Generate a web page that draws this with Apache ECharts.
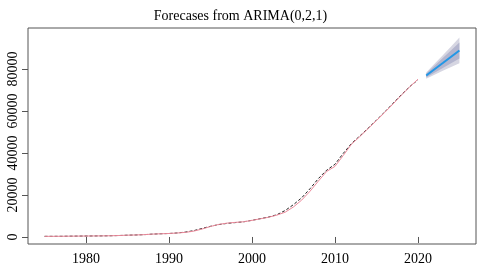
<!DOCTYPE html>
<html>
<head>
<meta charset="utf-8">
<script src="https://cdn.jsdelivr.net/npm/echarts@6/dist/echarts.min.js"></script>
<style>
html,body{margin:0;padding:0;background:#fff;}
#chart{width:481px;height:269px;}
</style>
</head>
<body>
<div id="chart"></div>
<script>
// 历史数据 1975-2020
var years = [];
for (var y = 1975; y <= 2020; y++) years.push(y);
var actual = [300,310,330,380,420,460,490,530,590,700,
	860,960,1110,1370,1530,1660,1920,2350,3040,4070,
	5090,5900,6480,6860,7230,7940,8720,9500,10600,12600,
	15400,18700,23000,27800,31800,34600,39800,44500,48100,51800,
	55600,59500,63600,67700,71500,74800];
var fitted = [300,310,330,380,420,460,490,530,590,700,
	860,960,1110,1370,1530,1660,1900,2200,2800,3800,
	5000,6000,6600,6950,7250,7900,8650,9400,10400,11800,
	14300,17600,21800,26600,31200,33600,38800,44200,47800,51600,
	55400,59300,63300,67500,71400,75100];
// 预测 2021-2025
var fcYears = [2021,2022,2023,2024,2025];
var fcMean = [76850,79850,82800,85800,88800];
var lo80 = [75900,78200,80400,82700,84950];
var hi80 = [77800,81500,85200,88900,92600];
var lo95 = [75350,77250,79100,80900,82650];
var hi95 = [78350,82450,86500,90700,94900];

var xTicks = [1980,1990,2000,2010,2020];
var yTicks = [0,20000,40000,60000,80000];

function pairs(xs, vs){
	var out = [];
	for (var i = 0; i < xs.length; i++) out.push([xs[i], vs[i]]);
	return out;
}
// 预测区间多边形
function bandSeries(lo, hi, color, z){
	return {
		type: 'custom', z: z, silent: true,
		data: [[fcYears[0], lo[0]]],
		renderItem: function(params, api){
			var pts = [];
			for (var i = 0; i < fcYears.length; i++) pts.push(api.coord([fcYears[i], hi[i]]));
			for (var j = fcYears.length - 1; j >= 0; j--) pts.push(api.coord([fcYears[j], lo[j]]));
			return {type: 'polygon', shape: {points: pts}, style: {fill: color}};
		}
	};
}

var font = "'Liberation Serif','DejaVu Serif',serif";
var chart = echarts.init(document.getElementById('chart'));
var option = {
	backgroundColor: '#fff',
	animation: false,
	title: {
		text: 'Forecases from ARIMA(0,2,1)',
		left: 'center', top: 4,
		textStyle: {fontFamily: font, fontSize: 14, fontWeight: 'normal', color: '#000'}
	},
	grid: {left: 28, right: 5, top: 28, bottom: 25, show: true, borderColor: '#555', borderWidth: 1},
	xAxis: {
		type: 'value', min: 1973, max: 2027,
		axisLine: {show: false},
		splitLine: {show: false},
		axisTick: {show: true, length: 6, lineStyle: {color: '#555'}, customValues: xTicks},
		axisLabel: {fontFamily: font, fontSize: 14, color: '#000', margin: 8, customValues: xTicks,
			formatter: function(v){ return String(v); }}
	},
	yAxis: {
		type: 'value', min: -3341, max: 99475,
		axisLine: {show: false},
		splitLine: {show: false},
		axisTick: {show: true, length: 6, lineStyle: {color: '#555'}, customValues: yTicks},
		axisLabel: {fontFamily: font, fontSize: 14, color: '#000', margin: 8, rotate: 90, customValues: yTicks,
			formatter: function(v){ return String(v); }}
	},
	series: [
		bandSeries(lo95, hi95, '#D6D6E2', 1),
		bandSeries(lo80, hi80, '#B3B5CE', 2),
		{type: 'line', data: pairs(fcYears, fcMean), symbol: 'none', lineStyle: {color: '#2297E6', width: 2}, z: 5},
		{type: 'line', data: pairs(years, actual), symbol: 'none', lineStyle: {color: '#222', width: 1, type: [3, 2]}, z: 3},
		{type: 'line', data: pairs(years, fitted), symbol: 'none', lineStyle: {color: '#EC8A9B', width: 1}, z: 4}
	]
};
chart.setOption(option);
</script>
</body>
</html>
